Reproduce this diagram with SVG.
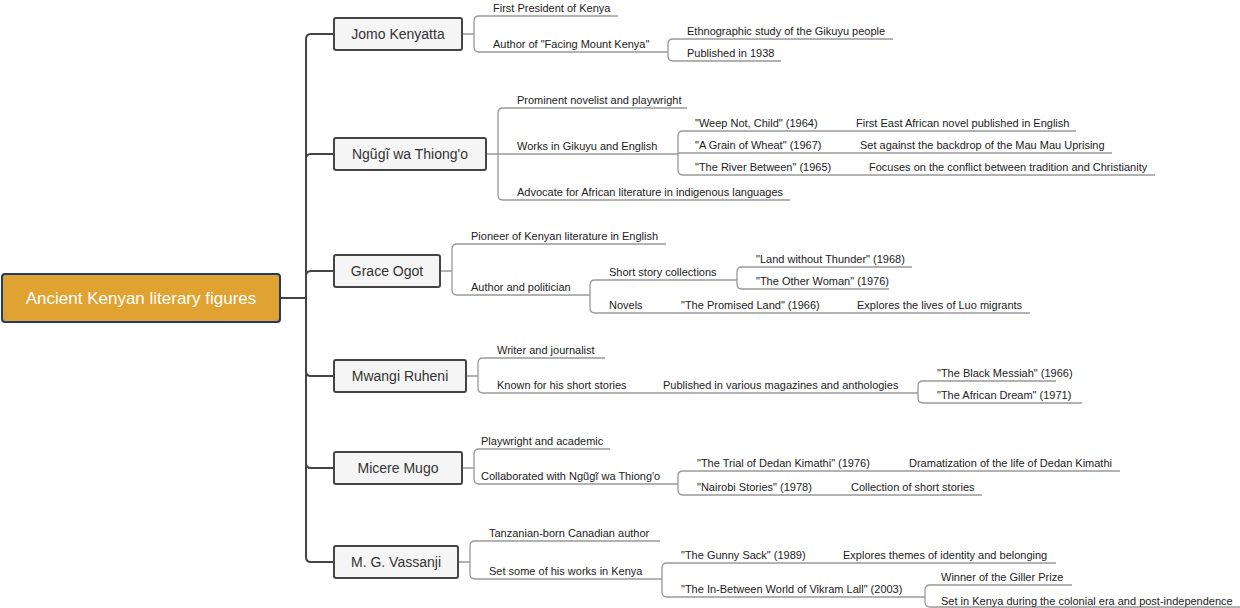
<svg xmlns="http://www.w3.org/2000/svg" width="1240" height="608" viewBox="0 0 1240 608">
<style>
.t{font-family:"Liberation Sans",Arial,sans-serif;font-size:11px;fill:#222}
.n{font-family:"Liberation Sans",Arial,sans-serif;font-size:14px;fill:#333;text-anchor:middle}
.nb{fill:#f5f5f5;stroke:#444;stroke-width:2}
.tr{fill:none;stroke:#444;stroke-width:2}
.lf{fill:none;stroke:#999;stroke-width:1.3}
</style>
<rect width="1240" height="608" fill="#fff"/>
<g id="connectors">
<path class="tr" d="M280 298H306M306 298V39Q306 34 311 34H334M306 298V159Q306 154 311 154H334M306 298V276Q306 271 311 271H334M306 298V371Q306 376 311 376H334M306 298V463Q306 468 311 468H334M306 298V557Q306 562 311 562H334"/>
<path class="lf" d="M462 34H474V21Q474 16 479 16H618M474 34V47Q474 52 479 52H668M668 52V44Q668 39 673 39H893M668 52V56Q668 61 673 61H781"/>
<path class="lf" d="M486 154H498V113Q498 108 503 108H687M498 154H678M498 154V195Q498 200 503 200H790M678 154V136Q678 131 683 131H1076M678 154V153H1112M678 154V170Q678 175 683 175H1155"/>
<path class="lf" d="M440 271H452V249Q452 244 457 244H666M452 271V290Q452 295 457 295H590M590 295V285Q590 280 595 280H737M737 280V272Q737 267 742 267H912M737 280V284Q737 289 742 289H889M590 295V308Q590 313 595 313H1030"/>
<path class="lf" d="M466 376H478V363Q478 358 483 358H605M478 376V388Q478 393 483 393H918M918 393V386Q918 381 923 381H1056M918 393V398Q918 403 923 403H1082"/>
<path class="lf" d="M462 468H474V454Q474 449 479 449H610M474 468V479Q474 484 479 484H678M678 484V476Q678 471 683 471H1120M678 484V490Q678 495 683 495H982"/>
<path class="lf" d="M458 562H470V546Q470 541 475 541H660M470 562V574Q470 579 475 579H662M662 579V568Q662 563 667 563H1056M662 579V592Q662 597 667 597H925M925 597V590Q925 585 930 585H1072M925 597V602Q925 607 930 607H1240"/>
</g>
<g id="root"><rect x="2" y="274" width="278" height="48" rx="3" fill="#E0A230" stroke="#1F3A6E" stroke-width="2"/><text x="141" y="304" font-family="'Liberation Sans',Arial,sans-serif" font-size="17" fill="#fff" text-anchor="middle">Ancient Kenyan literary figures</text></g>
<g id="n1"><rect class="nb" x="334" y="18" width="128" height="32" rx="2"/><text class="n" x="398" y="39">Jomo Kenyatta</text></g>
<g id="n2"><rect class="nb" x="334" y="138" width="152" height="32" rx="2"/><text class="n" x="410" y="159">Ngũgĩ wa Thiong'o</text></g>
<g id="n3"><rect class="nb" x="334" y="255" width="106" height="32" rx="2"/><text class="n" x="387" y="276">Grace Ogot</text></g>
<g id="n4"><rect class="nb" x="334" y="360" width="132" height="32" rx="2"/><text class="n" x="400" y="381">Mwangi Ruheni</text></g>
<g id="n5"><rect class="nb" x="334" y="452" width="128" height="32" rx="2"/><text class="n" x="398" y="473">Micere Mugo</text></g>
<g id="n6"><rect class="nb" x="334" y="546" width="124" height="32" rx="2"/><text class="n" x="396" y="567">M. G. Vassanji</text></g>
<g id="leaves">
<text class="t" x="493" y="12">First President of Kenya</text>
<text class="t" x="493" y="48">Author of "Facing Mount Kenya"</text>
<text class="t" x="687" y="35">Ethnographic study of the Gikuyu people</text>
<text class="t" x="687" y="57">Published in 1938</text>
<text class="t" x="517" y="104">Prominent novelist and playwright</text>
<text class="t" x="517" y="150">Works in Gikuyu and English</text>
<text class="t" x="517" y="196">Advocate for African literature in indigenous languages</text>
<text class="t" x="695" y="127">"Weep Not, Child" (1964)</text>
<text class="t" x="856" y="127">First East African novel published in English</text>
<text class="t" x="695" y="149">"A Grain of Wheat" (1967)</text>
<text class="t" x="860" y="149">Set against the backdrop of the Mau Mau Uprising</text>
<text class="t" x="695" y="171">"The River Between" (1965)</text>
<text class="t" x="869" y="171">Focuses on the conflict between tradition and Christianity</text>
<text class="t" x="471" y="240">Pioneer of Kenyan literature in English</text>
<text class="t" x="471" y="291">Author and politician</text>
<text class="t" x="609" y="276">Short story collections</text>
<text class="t" x="756" y="263">"Land without Thunder" (1968)</text>
<text class="t" x="756" y="285">"The Other Woman" (1976)</text>
<text class="t" x="609" y="309">Novels</text>
<text class="t" x="681" y="309">"The Promised Land" (1966)</text>
<text class="t" x="857" y="309">Explores the lives of Luo migrants</text>
<text class="t" x="497" y="354">Writer and journalist</text>
<text class="t" x="497" y="389">Known for his short stories</text>
<text class="t" x="663" y="389">Published in various magazines and anthologies</text>
<text class="t" x="937" y="377">"The Black Messiah" (1966)</text>
<text class="t" x="937" y="399">"The African Dream" (1971)</text>
<text class="t" x="481" y="445">Playwright and academic</text>
<text class="t" x="481" y="480">Collaborated with Ngũgĩ wa Thiong'o</text>
<text class="t" x="697" y="467">"The Trial of Dedan Kimathi" (1976)</text>
<text class="t" x="909" y="467">Dramatization of the life of Dedan Kimathi</text>
<text class="t" x="697" y="491">"Nairobi Stories" (1978)</text>
<text class="t" x="851" y="491">Collection of short stories</text>
<text class="t" x="489" y="537">Tanzanian-born Canadian author</text>
<text class="t" x="489" y="575">Set some of his works in Kenya</text>
<text class="t" x="681" y="559">"The Gunny Sack" (1989)</text>
<text class="t" x="843" y="559">Explores themes of identity and belonging</text>
<text class="t" x="681" y="593">"The In-Between World of Vikram Lall" (2003)</text>
<text class="t" x="941" y="581">Winner of the Giller Prize</text>
<text class="t" x="941" y="605">Set in Kenya during the colonial era and post-independence</text>
</g>
</svg>
